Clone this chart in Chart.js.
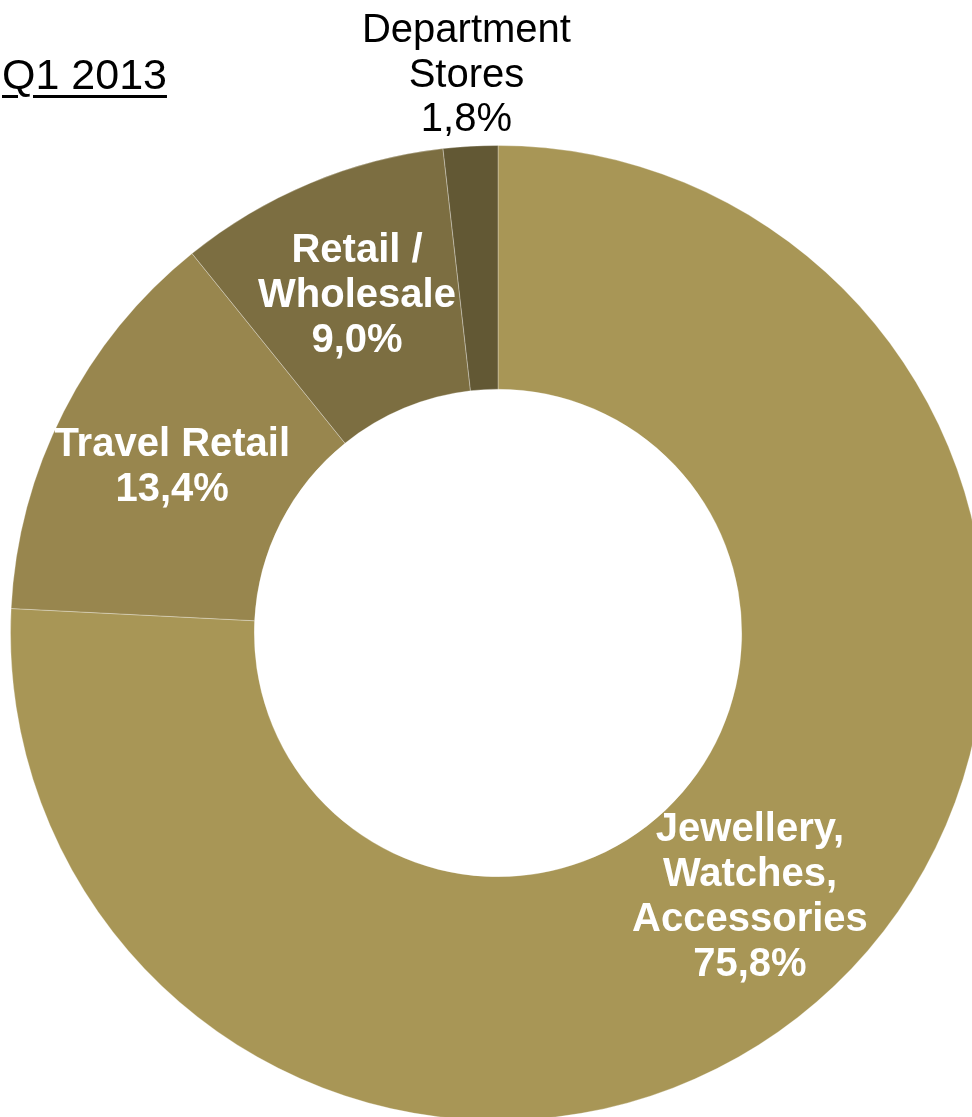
<!DOCTYPE html>
<html>
<head>
<meta charset="utf-8">
<script src="https://cdn.jsdelivr.net/npm/chart.js@4.4.1/dist/chart.umd.min.js"></script>
<style>
  html, body { margin: 0; padding: 0; background: #fff; overflow: hidden; width: 972px; height: 1117px; }
  #title {
    position: absolute; left: 2px; top: 53px; margin: 0;
    font-family: "Liberation Sans", Arial, sans-serif; font-size: 43px; font-weight: normal;
    color: #000; text-decoration: underline; text-decoration-thickness: 3px; text-underline-offset: 6px;
    line-height: 1; z-index: 2;
  }
  #wrap { position: absolute; left: 0; top: 0; width: 986px; height: 1121px; }
</style>
</head>
<body>
<div id="title">Q1 2013</div>
<div id="wrap"><canvas id="c"></canvas></div>
<script>
// Channel split of sales, share in percent
const categories = ["Jewellery, Watches, Accessories", "Travel Retail", "Retail / Wholesale", "Department Stores"];
const labelLines = [
  ["Jewellery,", "Watches,", "Accessories"],
  ["Travel Retail"],
  ["Retail /", "Wholesale"],
  ["Department", "Stores"]
];
const shares = [75.8, 13.4, 9.0, 1.8];
const sliceColors = ["#a89656", "#98864e", "#7c6e41", "#625834"];
// Slices whose label sits outside the ring
const outsideLabel = [false, false, false, true];

const fmt = v => v.toFixed(1).replace(".", ",") + "%";

const sliceLabels = {
  id: "sliceLabels",
  afterDatasetsDraw(chart) {
    const ctx = chart.ctx;
    const meta = chart.getDatasetMeta(0);
    ctx.save();
    ctx.textAlign = "center";
    ctx.textBaseline = "middle";
    meta.data.forEach((arc, i) => {
      const lines = labelLines[i].concat([fmt(shares[i])]);
      let x, y, lh;
      if (outsideLabel[i]) {
        const p = arc.getProps(["x", "y", "startAngle", "endAngle", "outerRadius"], true);
        const mid = (p.startAngle + p.endAngle) / 2;
        const r = p.outerRadius * 1.145;
        x = p.x + Math.cos(mid) * r;
        y = p.y + Math.sin(mid) * r;
        ctx.font = "40px 'Liberation Sans', Arial, sans-serif";
        ctx.fillStyle = "#000";
        lh = 44.5;
      } else {
        const c = arc.tooltipPosition(true);
        x = c.x; y = c.y;
        ctx.font = "bold 40px 'Liberation Sans', Arial, sans-serif";
        ctx.fillStyle = "#fff";
        lh = 45;
      }
      const top = y - (lines.length - 1) * lh / 2;
      lines.forEach((t, k) => ctx.fillText(t, x, top + k * lh));
    });
    ctx.restore();
  }
};

new Chart(document.getElementById("c"), {
  type: "doughnut",
  data: {
    labels: categories,
    datasets: [{
      data: shares,
      backgroundColor: sliceColors,
      borderColor: "rgba(255,255,255,0.3)",
      borderWidth: 1
    }]
  },
  options: {
    responsive: true,
    maintainAspectRatio: false,
    animation: false,
    cutout: "50%",
    layout: { padding: { left: 10, top: 145, right: 0, bottom: 0 } },
    plugins: { legend: { display: false }, tooltip: { enabled: false } }
  },
  plugins: [sliceLabels]
});
</script>
</body>
</html>
